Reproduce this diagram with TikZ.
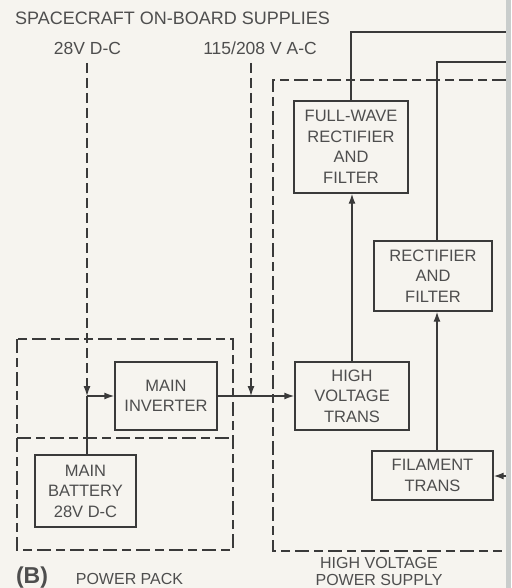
\documentclass[tikz,border=0pt]{standalone}
\usepackage{fontspec}
\setmainfont{Liberation Sans}
\usepackage{tikz}
\usetikzlibrary{positioning,arrows.meta}
\usepackage{xcolor}
\definecolor{ink}{HTML}{3A3A3A}
\definecolor{lettering}{HTML}{4E4E4E}
\definecolor{paper}{HTML}{F6F4EF}
\definecolor{scanedge}{HTML}{C9CDCC}
\tikzset{
  unit/.style={draw=ink, line width=1.4pt, align=center, text=lettering, inner sep=0pt,
    font=\fontsize{16.5}{20.5}\selectfont},
  wire/.style={draw=ink, line width=1.4pt},
  feed/.style={draw=ink, line width=1.3pt, dash pattern=on 10pt off 5pt},
  border/.style={draw=ink, line width=1.3pt, dash pattern=on 14pt off 5pt on 9pt off 5pt},
  lbl/.style={text=lettering, inner sep=0pt, font=\fontsize{16}{17}\selectfont, align=center},
}

\begin{document}
\begin{tikzpicture}[x=1pt, y=-1pt, >={Latex[length=10pt,width=7pt]}]
    \fill[paper] (0,0) rectangle (511,588);
    \useasboundingbox (0,0) rectangle (511,588);
    \fill[scanedge] (506,0) rectangle (511,588);
    % supplies
    \node[lbl, anchor=west, font=\fontsize{18}{20}\selectfont] (title) at (15,18.5) {SPACECRAFT ON-BOARD SUPPLIES};
    \node[lbl, font=\fontsize{17.5}{18}\selectfont] (dclbl) at (87.5,48) {28V D-C};
    \node[lbl, font=\fontsize{17.5}{18}\selectfont] (aclbl) at (260,48) {115/208 V A-C};
    \coordinate (dcsrc) at (87,63);
    \coordinate (acsrc) at (251,63);
    \coordinate (dcj) at (87,396);
    \coordinate (acj) at (251,396);
    % power pack
    \node[unit, minimum width=102pt, minimum height=68pt] (inv) at (166,396) {MAIN\\INVERTER};
    \node[unit, minimum width=101pt, minimum height=72pt] (bat) at (85.5,491) {MAIN\\BATTERY\\28V D-C};
    \draw[border] (17,339) rectangle (233,550);
    \draw[border] (17,438) -- (233,438);
    \node[lbl, font=\fontsize{23}{23}\selectfont\bfseries] (tag) at (32,578) {(B)};
    \node[lbl] (pplbl) at (129.5,579) {POWER PACK};
    % high voltage power supply
    \node[unit, minimum width=114pt, minimum height=68pt] (hvt) at (352,396) {HIGH\\VOLTAGE\\TRANS};
    \node[unit, minimum width=114pt, minimum height=92pt] (fwr) at (351,147) {FULL-WAVE\\RECTIFIER\\AND\\FILTER};
    \node[unit, minimum width=118pt, minimum height=70pt] (rect) at (433,276) {RECTIFIER\\AND\\FILTER};
    \node[unit, minimum width=121pt, minimum height=49pt] (fil) at (432.5,475.5) {FILAMENT\\TRANS};
    \draw[border] (506,80) -- (273,80) -- (273,551) -- (502,551);
    \node[lbl] (hvlbl) at (379,571) {HIGH VOLTAGE\\POWER SUPPLY};
    \coordinate (ftap) at (437,0);
    \coordinate (hvout) at (506,32);
    \coordinate (lvout) at (506,62);
    \coordinate (filin) at (506,476);
    % connections
    \draw[feed,->] (dcsrc) -- (dcj);
    \draw[feed,->] (acsrc) -- (acj);
    \draw[wire] (bat.north -| dcj) -- (dcj);
    \draw[wire,->] (dcj) -- (inv.west);
    \draw[wire,->] (inv.east) -- (hvt.west);
    \draw[wire,->] (hvt.north) -- (hvt.north |- fwr.south);
    \draw[wire] (fwr.north) -- (fwr.north |- hvout) -- (hvout);
    \draw[wire,->] (fil.north -| ftap) -- (rect.south -| ftap);
    \draw[wire] (rect.north -| ftap) -- (ftap |- lvout) -- (lvout);
    \draw[wire,->] (filin) -- (filin -| fil.east);
\end{tikzpicture}
\end{document}
